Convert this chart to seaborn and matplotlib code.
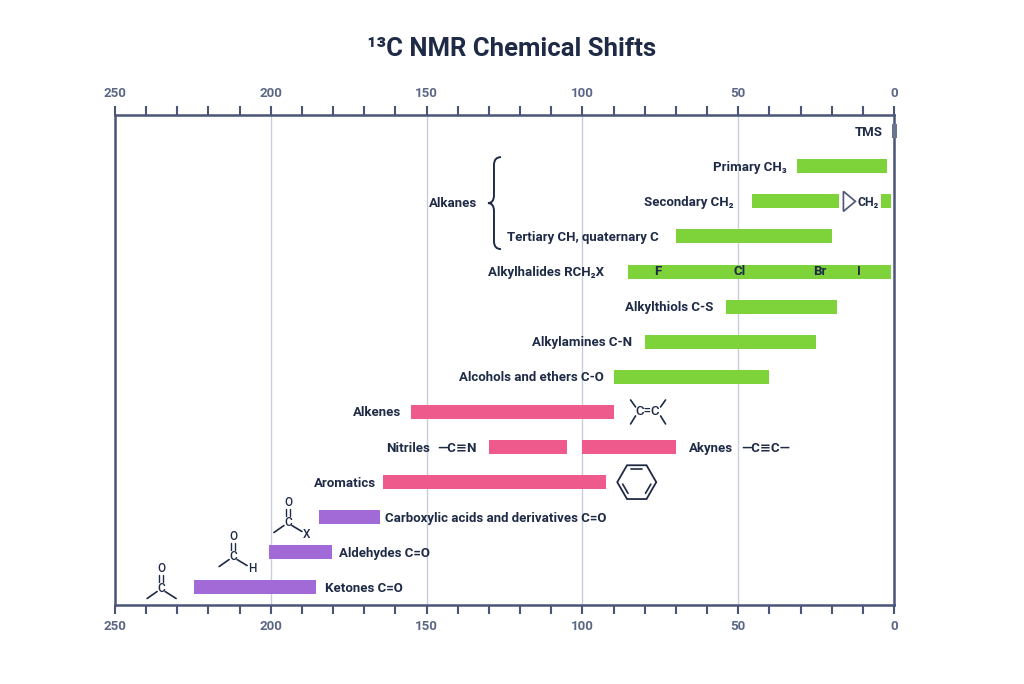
import numpy as np
import pandas as pd
import matplotlib
matplotlib.use("Agg")
import matplotlib.pyplot as plt
from matplotlib.path import Path
from matplotlib.patches import PathPatch, Polygon
from matplotlib.lines import Line2D
from matplotlib.transforms import Affine2D
from matplotlib.ticker import MultipleLocator
import seaborn as sns

# --- data (ppm ranges) ---
labels = ["TMS", "Primary CH\u2083", "Secondary CH\u2082", "", "Tertiary CH, quaternary C",
          "Alkylhalides RCH\u2082X", "Alkylthiols C-S", "Alkylamines C-N",
          "Alcohols and ethers C-O", "Alkenes", "Nitriles", "Akynes", "Aromatics",
          "Carboxylic acids and derivatives C=O", "Aldehydes C=O", "Ketones C=O"]
rows = [0, 1, 2, 2, 3, 4, 5, 6, 7, 8, 9, 9, 10, 11, 12, 13]
shift_high = [0.6, 31, 45.5, 4.2, 70, 85.5, 54, 80, 90, 155, 130, 100, 164, 184.5, 200.5, 224.5]
shift_low = [-0.9, 2.2, 17.7, 1, 20, 1, 18.3, 25, 40, 90, 105, 70, 92.5, 165, 180.5, 185.5]
group = ["ref", "alkyl", "alkyl", "alkyl", "alkyl", "alkyl", "alkyl", "alkyl", "alkyl",
         "unsat", "unsat", "unsat", "unsat", "carbonyl", "carbonyl", "carbonyl"]
label_side = ["left", "left", "left", "none", "left", "left", "left", "left", "left",
              "left", "left", "right", "left", "right", "right", "right"]
label_gap = [9, 11, 19, 0, 17, 24, 12, 13, 10, 10, 59, 13, 7, 5, 7, 9]

halogens = ["F", "Cl", "Br", "I"]
halogen_ppm = [75.7, 49.7, 23.7, 11.2]

df = pd.DataFrame({"label": labels, "row": rows, "high": shift_high, "low": shift_low,
                   "group": group, "side": label_side, "gap": label_gap})

palette = {"ref": "#6b7592", "alkyl": "#7ed33a", "unsat": "#ee5a8b", "carbonyl": "#a16ad7"}
NAVY = "#1e2a46"
AXIS = "#4b5577"
TICK = "#5b6685"
FS = 9.5

sns.set_theme(style="white")
plt.rcParams["font.family"] = ["Roboto", "DejaVu Sans"]

fig = plt.figure(figsize=(10.24, 6.84), dpi=100)
ax = fig.add_axes([115 / 1024, 1 - 605 / 684, (894 - 115) / 1024, (605 - 115) / 684])
ax.set_xlim(250, 0)
ax.set_ylim(13.5, -0.46)

ax.barh(df["row"], df["high"] - df["low"], left=df["low"], height=0.4,
        color=df["group"].map(palette), edgecolor="none", zorder=3, clip_on=False)

for _, r in df.iterrows():
    if r["side"] == "left":
        ax.annotate(r["label"], xy=(r["high"], r["row"]), xytext=(-r["gap"], -1),
                    textcoords="offset pixels", ha="right", va="center",
                    fontsize=FS, weight="bold", color=NAVY)
    elif r["side"] == "right":
        ax.annotate(r["label"], xy=(r["low"], r["row"]), xytext=(r["gap"], -1),
                    textcoords="offset pixels", ha="left", va="center",
                    fontsize=FS, weight="bold", color=NAVY)

halide_row = rows[labels.index("Alkylhalides RCH\u2082X")]
for h, p in zip(halogens, halogen_ppm):
    ax.text(p, halide_row, h, ha="center", va="center", fontsize=FS, weight="bold",
            color=NAVY, zorder=4)

# axes styling
ax.xaxis.set_major_locator(MultipleLocator(50))
ax.xaxis.set_minor_locator(MultipleLocator(10))
ax.tick_params(axis="x", which="both", top=True, bottom=True, labeltop=True,
               labelbottom=True, direction="out", length=6.5, width=1.5, color=AXIS)
ax.tick_params(axis="x", which="major", labelsize=9.5, labelcolor=TICK, pad=4)
for lab in ax.get_xticklabels():
    lab.set_fontweight("bold")
ax.set_yticks([])
ax.grid(axis="x", which="major", color="#c8cddb", lw=1, zorder=0)
for s in ax.spines.values():
    s.set_color(AXIS)
    s.set_linewidth(1.8)
    s.set_zorder(2)

fig.text(0.5, 1 - 49 / 684, "\u00b9\u00b3C NMR Chemical Shifts", ha="center", va="center",
         fontsize=18.5, weight="bold", color=NAVY)


# --- structure sketches, drawn in pixel offsets around a data anchor ---
def px(xd, yd):
    x0, y0 = ax.transData.transform((xd, yd))
    return Affine2D().scale(1, -1).translate(x0, y0)


def seg(tr, pts, lw=1.2):
    xs, ys = zip(*pts)
    ln = Line2D(xs, ys, color=NAVY, lw=lw, transform=tr, clip_on=False, zorder=5)
    ax.add_artist(ln)


def atom(tr, x, y, s, size=8.5):
    ax.text(x, y, s, transform=tr, ha="center", va="center", fontsize=size,
            color=NAVY, weight="medium", clip_on=False)


# Alkanes brace
tr = px(128.7, 2.05)
brace = Path([(8, -46), (1, -46), (1, -38), (1, -8), (1, 0), (-5, 0),
              (1, 0), (1, 8), (1, 38), (1, 46), (8, 46)],
             [Path.MOVETO, Path.CURVE3, Path.CURVE3, Path.LINETO, Path.CURVE3, Path.CURVE3,
              Path.CURVE3, Path.CURVE3, Path.LINETO, Path.CURVE3, Path.CURVE3])
ax.add_patch(PathPatch(brace, fc="none", ec=NAVY, lw=1.4, transform=tr, clip_on=False))
ax.annotate("Alkanes", xy=(128.7, 2.05), xytext=(-16, 0), textcoords="offset pixels",
            ha="right", va="center", fontsize=FS, weight="bold", color=NAVY)

# cyclopropane CH2
tr = px(4.2, 2)
ax.add_patch(Polygon([(-37.5, -10), (-37.5, 10), (-25.5, 0)], closed=True, fc="none",
                     ec=AXIS, lw=1.2, transform=tr, clip_on=False))
ax.annotate("CH\u2082", xy=(4.2, 2), xytext=(-2, -1), textcoords="offset pixels",
            ha="right", va="center", fontsize=8.8, weight="bold", color=NAVY)

# alkene C=C
tr = px(90, 8)
atom(tr, 34, 0, "C=C", 9.5)
seg(tr, [(17, -12), (22, -5)])
seg(tr, [(22, 4), (17, 12)])
seg(tr, [(47, -5), (52, -12)])
seg(tr, [(47, 4), (52, 12)])

# nitrile and alkyne groups
ax.annotate("\u2014C\u2261N", xy=(130, 9), xytext=(-12, -1), textcoords="offset pixels",
            ha="right", va="center", fontsize=FS, weight="bold", color=NAVY)
ax.annotate("\u2014C\u2261C\u2014", xy=(70, 9), xytext=(65, -1), textcoords="offset pixels",
            ha="left", va="center", fontsize=FS, weight="bold", color=NAVY)

# benzene ring
tr = px(92.5, 10)
cx, r = 31, 19.5
ang = np.deg2rad(np.arange(0, 360, 60))
hexv = [(cx + r * np.cos(a), r * np.sin(a)) for a in ang]
ax.add_patch(Polygon(hexv, closed=True, fc="none", ec=NAVY, lw=1.3, transform=tr,
                     clip_on=False))
for i in (0, 2, 4):
    p, q = np.array(hexv[i]), np.array(hexv[(i + 1) % 6])
    c = np.array([cx, 0])
    p2, q2 = c + (p - c) * 0.78, c + (q - c) * 0.78
    d = (q2 - p2) * 0.15
    seg(tr, [tuple(p2 + d), tuple(q2 - d)], lw=1.2)

# carbonyl sketches: position of the C atom in (ppm, row)
carbonyl_pos = [(235.2, 13.03), (212.1, 12.12), (194.5, 11.15)]
carbonyl_sub = [None, "H", "X"]
for (xd, yd), sub in zip(carbonyl_pos, carbonyl_sub):
    tr = px(xd, yd)
    atom(tr, 0, 0, "C")
    atom(tr, 0, -20, "O")
    seg(tr, [(-1.8, -14), (-1.8, -7)], lw=1.0)
    seg(tr, [(1.8, -14), (1.8, -7)], lw=1.0)
    seg(tr, [(-14, 10), (-4, 3)])
    if sub is None:
        seg(tr, [(4, 3), (15, 10)])
    else:
        seg(tr, [(4, 3), (14, 9)])
        atom(tr, 19, 12, sub)

fig.savefig("out.png", dpi=100)
